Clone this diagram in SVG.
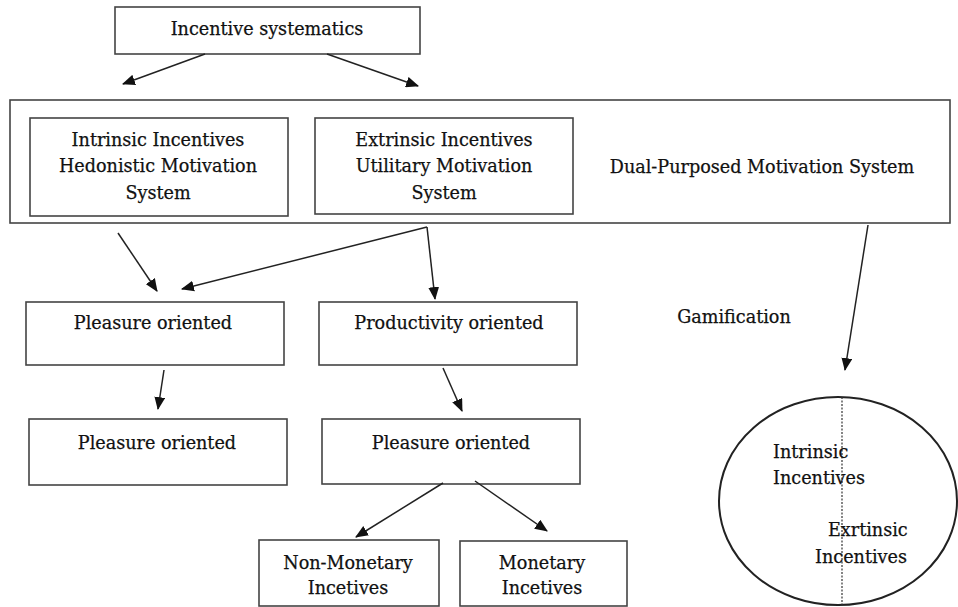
<svg xmlns="http://www.w3.org/2000/svg" width="958" height="607" viewBox="0 0 958 607">
<defs>
<marker id="ah" viewBox="0 0 12 10" refX="11" refY="5" markerWidth="13" markerHeight="11" markerUnits="userSpaceOnUse" orient="auto">
<path d="M0,0 L12,5 L0,10 z" fill="#111"/>
</marker>
<style>
.box{fill:#fff;stroke:#444;stroke-width:1.6}
.t{font-family:"DejaVu Serif","Liberation Serif",serif;font-size:17.6px;fill:#111;stroke:#111;stroke-width:0.25;text-anchor:middle}
.ts{font-family:"DejaVu Serif","Liberation Serif",serif;font-size:17.6px;fill:#111;stroke:#111;stroke-width:0.25}
.c{stroke:#222;stroke-width:1.5;fill:none;marker-end:url(#ah)}
</style>
</defs>
<rect width="958" height="607" fill="#fff"/>
<g id="incentive-systematics">
<rect class="box" x="115" y="7" width="305" height="47"/>
<text class="t" x="267" y="35">Incentive systematics</text>
</g>
<g id="dual-purposed">
<rect class="box" x="10" y="100" width="940" height="123"/>
<text class="t" x="762" y="173">Dual-Purposed Motivation System</text>
</g>
<g id="intrinsic">
<rect class="box" x="30" y="118" width="258" height="98"/>
<text class="t" x="158" y="146">Intrinsic Incentives</text>
<text class="t" x="158" y="172">Hedonistic Motivation</text>
<text class="t" x="158" y="199">System</text>
</g>
<g id="extrinsic">
<rect class="box" x="315" y="118" width="258" height="96"/>
<text class="t" x="444" y="146">Extrinsic Incentives</text>
<text class="t" x="444" y="172">Utilitary Motivation</text>
<text class="t" x="444" y="199">System</text>
</g>
<g id="pleasure1">
<rect class="box" x="26" y="302" width="258" height="63"/>
<text class="t" x="153" y="329">Pleasure oriented</text>
</g>
<g id="productivity">
<rect class="box" x="319" y="302" width="258" height="63"/>
<text class="t" x="449" y="329">Productivity oriented</text>
</g>
<g id="gamification">
<text class="t" x="734" y="323">Gamification</text>
</g>
<g id="pleasure2">
<rect class="box" x="29" y="419" width="258" height="66"/>
<text class="t" x="157" y="449">Pleasure oriented</text>
</g>
<g id="pleasure3">
<rect class="box" x="322" y="419" width="258" height="65"/>
<text class="t" x="451" y="449">Pleasure oriented</text>
</g>
<g id="non-monetary">
<rect class="box" x="259" y="540" width="180" height="66"/>
<text class="t" x="348" y="569">Non-Monetary</text>
<text class="t" x="348" y="594">Incetives</text>
</g>
<g id="monetary">
<rect class="box" x="460" y="541" width="167" height="65"/>
<text class="t" x="542" y="569">Monetary</text>
<text class="t" x="542" y="594">Incetives</text>
</g>
<g id="gamification-circle">
<ellipse cx="838" cy="501" rx="119" ry="104" fill="#fff" stroke="#222" stroke-width="2"/>
<line x1="842" y1="397" x2="842" y2="605" stroke="#333" stroke-width="1.2" stroke-dasharray="2,1.5"/>
<text class="ts" x="773" y="458">Intrinsic</text>
<text class="ts" x="773" y="484">Incentives</text>
<text class="ts" x="828" y="536">Exrtinsic</text>
<text class="ts" x="815" y="563">Incentives</text>
</g>
<g id="connectors">
<path class="c" d="M205,54 L123,84"/>
<path class="c" d="M327,54 L418,86"/>
<path class="c" d="M118,233 L157,291"/>
<path class="c" d="M427,227 L182,289"/>
<path class="c" d="M427,227 L435,299"/>
<path class="c" d="M868,225 L845,370"/>
<path class="c" d="M164,370 L158,409"/>
<path class="c" d="M443,368 L462,411"/>
<path class="c" d="M443,483 L356,537"/>
<path class="c" d="M475,481 L547,531"/>
</g>
</svg>
